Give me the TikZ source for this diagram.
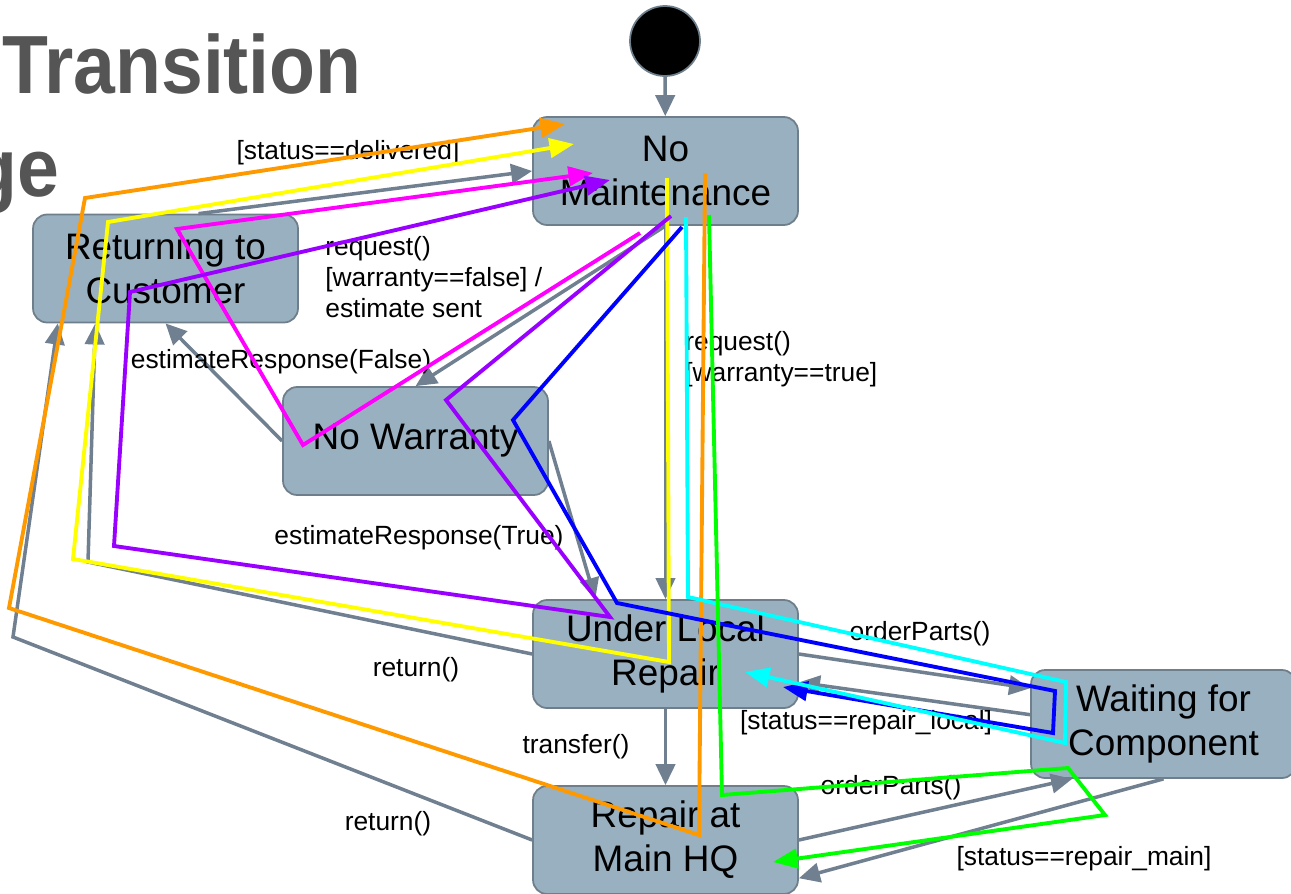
\documentclass[tikz,border=0pt]{standalone}
\usepackage{fontspec}
\setmainfont{Liberation Sans}
\newfontfamily\headingfont[FakeStretch=0.91]{Liberation Sans}
\usetikzlibrary{arrows.meta}
\definecolor{statefill}{HTML}{99B0C1}
\definecolor{stateborder}{HTML}{6E7F8B}
\definecolor{edgegray}{HTML}{708090}
\definecolor{titlegray}{HTML}{555555}
\definecolor{traceorange}{HTML}{FF9900}
\definecolor{traceyellow}{HTML}{FFFF00}
\definecolor{tracemagenta}{HTML}{FF00FF}
\definecolor{tracepurple}{HTML}{9900FF}
\definecolor{traceblue}{HTML}{0000FF}
\definecolor{tracecyan}{HTML}{00FFFF}
\definecolor{tracegreen}{HTML}{00FF00}
\begin{document}
\begin{tikzpicture}[x=0.02cm,y=-0.02cm]
	\tikzstyle{state}=[rectangle,rounded corners=8pt,draw=stateborder,fill=statefill,line width=1pt,minimum width=5.3cm,minimum height=2.16cm,align=center,font=\fontsize{21}{25}\selectfont]
	\tikzstyle{startdot}=[circle,draw=stateborder,fill=black,line width=1pt,minimum size=1.4cm,inner sep=0pt]
	\tikzstyle{edge}=[draw=edgegray,line width=2pt,-{Triangle[length=12pt,width=11pt]}]
	\tikzstyle{guard}=[inner sep=0pt,font=\fontsize{15}{17.6}\selectfont]
	\tikzstyle{heading}=[inner sep=0pt,text=titlegray,font=\headingfont\fontsize{47}{57}\selectfont\bfseries]
	\tikzstyle{trace}=[line width=2.2pt,-{Triangle[length=14pt,width=11pt]}]
	\useasboundingbox (0,0) rectangle (1291,893);
	\clip (0,0) rectangle (1291,893);
	\begin{scope}
		\node [heading,anchor=base east] (title1) at (362,93) {Transition};
		\node [heading,anchor=base east] (title2) at (60,196) {ge};
		\node [startdot] (init) at (665,41) {};
		\node [state] (nm) at (665.5,171) {No\\Maintenance};
		\node [state] (rtc) at (165.5,268.5) {Returning to\\Customer};
		\node [state] (nw) at (415.5,441) {No Warranty};
		\node [state] (ulr) at (665.5,654) {Under Local\\Repair};
		\node [state] (hq) at (665.5,840) {Repair at\\Main HQ};
		\node [state] (wfc) at (1163.5,724) {Waiting for\\Component};
		\coordinate (retbend1) at (88,562);
		\coordinate (retbend2) at (13,637);
		\draw[edge] (init) -- (nm);
		\draw[edge] (rtc.59) -- (nm.west);
		\draw[edge] (nm.south) -- (nw.north);
		\draw[edge] (nw.west) -- (rtc.south);
		\draw[edge] (nw.east) -- (ulr.142);
		\draw[edge] (nm.south) -- (ulr.north);
		\draw[edge] (ulr.south) -- (hq.north);
		\draw[edge] (ulr.east) -- (wfc.165);
		\draw[edge] (wfc.176) -- (ulr.348);
		\draw[edge] (hq.east) -- (wfc.211);
		\draw[edge] (wfc.south) -- (hq.344);
		\draw[edge] (ulr.west) -- (retbend1) -- (rtc.218);
		\draw[edge] (hq.west) -- (retbend2) -- (rtc.207);
		\node [guard] (delivered) at (348,153) {[status==delivered]};
		\node [guard,align=left,anchor=west] (nwreq) at (325,277) {request()\\{}[warranty==false] /\\estimate sent};
		\node [guard] (respfalse) at (281,362) {estimateResponse(False)};
		\node [guard,align=left,anchor=west] (wreq) at (685,359) {request()\\{}[warranty==true]};
		\node [guard] (resptrue) at (419,538) {estimateResponse(True)};
		\node [guard] (retlocal) at (416,670) {return()};
		\node [guard] (transfer) at (576,747) {transfer()};
		\node [guard] (orderlocal) at (920,634) {orderParts()};
		\node [guard] (replocal) at (866,723) {[status==repair\_local]};
		\node [guard] (ordermain) at (891,788) {orderParts()};
		\node [guard] (retmain) at (388,824) {return()};
		\node [guard] (repmain) at (1084,859) {[status==repair\_main]};
	\end{scope}
	\begin{scope}
		\coordinate (or1) at (705,173);
		\coordinate (or2) at (699,835);
		\coordinate (or3) at (9,608);
		\coordinate (or4) at (85,198);
		\coordinate (or5) at (565,124);
		\draw[trace,traceorange] (or1) -- (or2) -- (or3) -- (or4) -- (or5);
		\coordinate (ye1) at (667,178);
		\coordinate (ye2) at (669,662);
		\coordinate (ye3) at (73,559);
		\coordinate (ye4) at (108,222);
		\coordinate (ye5) at (574,144);
		\draw[trace,traceyellow] (ye1) -- (ye2) -- (ye3) -- (ye4) -- (ye5);
		\coordinate (ma1) at (640,233);
		\coordinate (ma2) at (303,445);
		\coordinate (ma3) at (177,229);
		\coordinate (ma4) at (593,173);
		\draw[trace,tracemagenta] (ma1) -- (ma2) -- (ma3) -- (ma4);
		\coordinate (pu1) at (671,216);
		\coordinate (pu2) at (446,400);
		\coordinate (pu3) at (610,617);
		\coordinate (pu4) at (114,546);
		\coordinate (pu5) at (130,292);
		\coordinate (pu6) at (610,180);
		\draw[trace,tracepurple] (pu1) -- (pu2) -- (pu3) -- (pu4) -- (pu5) -- (pu6);
		\coordinate (bl1) at (682,227);
		\coordinate (bl2) at (513,420);
		\coordinate (bl3) at (617,603);
		\coordinate (bl4) at (1055,691);
		\coordinate (bl5) at (1053,733);
		\coordinate (bl6) at (783,687);
		\draw[trace,traceblue] (bl1) -- (bl2) -- (bl3) -- (bl4) -- (bl5) -- (bl6);
		\coordinate (cy1) at (686,217);
		\coordinate (cy2) at (688,597);
		\coordinate (cy3) at (1066,682);
		\coordinate (cy4) at (1065,743);
		\coordinate (cy5) at (745,672);
		\draw[trace,tracecyan] (cy1) -- (cy2) -- (cy3) -- (cy4) -- (cy5);
		\coordinate (gr1) at (709,215);
		\coordinate (gr2) at (722,795);
		\coordinate (gr3) at (1068,768);
		\coordinate (gr4) at (1105,815);
		\coordinate (gr5) at (773,862);
		\draw[trace,tracegreen] (gr1) -- (gr2) -- (gr3) -- (gr4) -- (gr5);
	\end{scope}
\end{tikzpicture}
\end{document}
